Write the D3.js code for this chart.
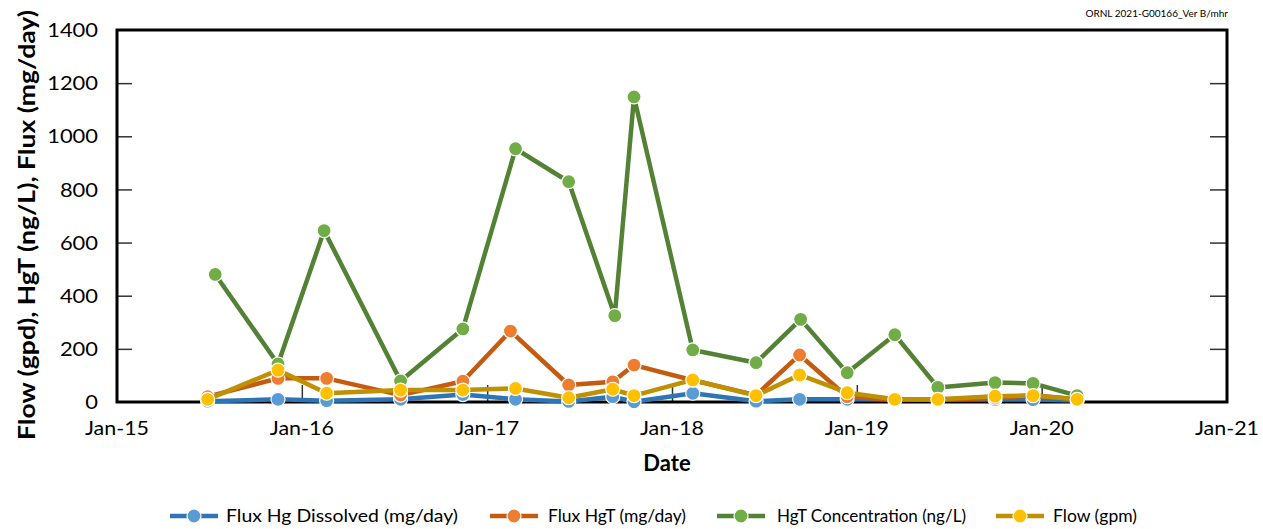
<!DOCTYPE html>
<html>
<head>
<meta charset="utf-8">
<script src="https://cdn.jsdelivr.net/npm/d3@7"></script>
<style>
  html, body { margin: 0; padding: 0; background: #fff; }
  svg { display: block; font-family: "Lato", "DejaVu Sans", sans-serif; }
</style>
</head>
<body>
<svg id="chart" width="1263" height="529"></svg>
<script>
// Sampling dates for dissolved flux and flow
const sampleDates = [
  "2015-06-29", "2015-11-15", "2016-02-19", "2016-07-14", "2016-11-14", "2017-02-26",
  "2017-06-11", "2017-09-06", "2017-10-18", "2018-02-11", "2018-06-16", "2018-09-10",
  "2018-12-13", "2019-03-17", "2019-06-10", "2019-10-01", "2019-12-15", "2020-03-11"
];
// Sampling dates for total-Hg flux
const fluxHgTDates = [
  "2015-06-29", "2015-11-15", "2016-02-19", "2016-07-14", "2016-11-14", "2017-02-16",
  "2017-06-11", "2017-09-06", "2017-10-18", "2018-02-11", "2018-06-16", "2018-09-10",
  "2018-12-13", "2019-03-17", "2019-06-10", "2019-10-01", "2019-12-15", "2020-03-11"
];
// Sampling dates for HgT concentration
const hgtDates = [
  "2015-07-14", "2015-11-15", "2016-02-14", "2016-07-14", "2016-11-14", "2017-02-26",
  "2017-06-11", "2017-09-10", "2017-10-18", "2018-02-11", "2018-06-16", "2018-09-12",
  "2018-12-13", "2019-03-17", "2019-06-10", "2019-10-01", "2019-12-15", "2020-03-11"
];

const fluxHgDissolved = [3, 10, 5, 10, 28, 10, 2, 20, 1, 33, 3, 10, 10, 9, 9, 9, 9, 6];
const fluxHgT        = [20, 89, 89, 26, 78, 267, 64, 76, 139, 82, 26, 177, 20, 8, 8, 15, 25, 10];
const hgtConc        = [480, 143, 645, 79, 275, 953, 829, 325, 1148, 196, 148, 311, 110, 253, 55, 73, 70, 24];
const flowGpm        = [10, 120, 33, 45, 45, 51, 16, 48, 24, 83, 24, 102, 35, 10, 10, 22, 24, 10];

const yTicks = [0, 200, 400, 600, 800, 1000, 1200, 1400];
const xDomain = ["2015-01-01", "2021-01-01"];

const seriesNames = ["Flux Hg Dissolved (mg/day)", "Flux HgT (mg/day)", "HgT Concentration (ng/L)", "Flow (gpm)"];
const lineColors   = ["#2E75B6", "#C55A11", "#548235", "#BF9000"];
const markerColors = ["#5B9BD5", "#ED7D31", "#70AD47", "#FFC000"];

const parse = d3.utcParse("%Y-%m-%d");
const series = [
  { name: seriesNames[0], dates: sampleDates, values: fluxHgDissolved },
  { name: seriesNames[1], dates: fluxHgTDates, values: fluxHgT },
  { name: seriesNames[2], dates: hgtDates, values: hgtConc },
  { name: seriesNames[3], dates: sampleDates, values: flowGpm }
].map((s, i) => ({
  ...s,
  line: lineColors[i],
  marker: markerColors[i],
  points: s.values.map((v, j) => ({ date: parse(s.dates[j]), value: v }))
}));

const svg = d3.select("#chart");
const plot = { left: 117, right: 1227, top: 30, bottom: 402 };

const x = d3.scaleUtc().domain(xDomain.map(parse)).range([plot.left, plot.right]);
const y = d3.scaleLinear().domain([0, 1400]).range([plot.bottom, plot.top]);

// Y axis: inward ticks on both sides
const yAxisL = svg.append("g").attr("transform", `translate(${plot.left},0)`)
  .call(d3.axisRight(y).tickValues(yTicks).tickSize(15).tickFormat(""));
const yAxisR = svg.append("g").attr("transform", `translate(${plot.right},0)`)
  .call(d3.axisLeft(y).tickValues(yTicks).tickSize(17).tickFormat(""));
[yAxisL, yAxisR].forEach(g => {
  g.select(".domain").remove();
  g.selectAll(".tick line").attr("stroke", "#333").attr("stroke-width", 1.5);
  g.selectAll(".tick").filter(d => d === 0 || d === 1400).remove();
});

// Y tick labels (wide geometric figures)
svg.append("g").selectAll("text").data(yTicks).join("text")
  .attr("x", 98).attr("y", d => y(d)).attr("dy", "0.36em")
  .attr("text-anchor", "end").attr("font-size", 20).attr("fill", "#000")
  .attr("textLength", d => String(d).length * 12.7).attr("lengthAdjust", "spacingAndGlyphs")
  .text(d => d);

// X axis: inward ticks
const xTickVals = x.ticks(d3.utcYear.every(1));
const xAxis = svg.append("g").attr("transform", `translate(0,${plot.bottom})`)
  .call(d3.axisTop(x).tickValues(xTickVals).tickSize(17).tickFormat(""));
xAxis.select(".domain").remove();
xAxis.selectAll(".tick line").attr("stroke", "#333").attr("stroke-width", 1.5);
xAxis.selectAll(".tick").filter((d, i) => i === 0 || i === xTickVals.length - 1).remove();

svg.append("g").selectAll("text").data(xTickVals).join("text")
  .attr("x", d => x(d)).attr("y", 435)
  .attr("text-anchor", "middle").attr("font-size", 19).attr("fill", "#000")
  .attr("textLength", 64).attr("lengthAdjust", "spacingAndGlyphs")
  .text(d3.utcFormat("Jan-%y"));

// Plot frame
svg.append("rect")
  .attr("x", plot.left).attr("y", plot.top)
  .attr("width", plot.right - plot.left).attr("height", plot.bottom - plot.top)
  .attr("fill", "none").attr("stroke", "#000").attr("stroke-width", 3);

// Series lines and markers
const line = d3.line().x(d => x(d.date)).y(d => y(d.value));
series.forEach(s => {
  const g = svg.append("g");
  g.append("path").datum(s.points)
    .attr("d", line).attr("fill", "none")
    .attr("stroke", s.line).attr("stroke-width", 4.5).attr("stroke-linejoin", "round");
  g.selectAll("circle").data(s.points).join("circle")
    .attr("cx", d => x(d.date)).attr("cy", d => y(d.value)).attr("r", 7)
    .attr("fill", s.marker).attr("stroke", "#fff").attr("stroke-width", 1.2);
});

// Axis titles
svg.append("text")
  .attr("transform", "translate(35,225) rotate(-90)")
  .attr("text-anchor", "middle").attr("font-size", 23).attr("font-weight", "bold")
  .attr("textLength", 430).attr("lengthAdjust", "spacingAndGlyphs")
  .text("Flow (gpd), HgT (ng/L), Flux (mg/day)");

svg.append("text")
  .attr("x", 667).attr("y", 471).attr("text-anchor", "middle")
  .attr("font-size", 22).attr("font-weight", "bold")
  .text("Date");

// Document label
svg.append("text")
  .attr("x", 1228).attr("y", 17).attr("text-anchor", "end")
  .attr("font-size", 10).attr("fill", "#000")
  .text("ORNL 2021-G00166_Ver B/mhr");

// Legend
const legendItems = [
  { x0: 170, tx: 226, tw: 232 },
  { x0: 490, tx: 548, tw: 138 },
  { x0: 717, tx: 777, tw: 189 },
  { x0: 996, tx: 1053, tw: 84 }
];
const legend = svg.append("g");
series.forEach((s, i) => {
  const it = legendItems[i];
  const g = legend.append("g");
  g.append("line").attr("x1", it.x0).attr("x2", it.x0 + 48)
    .attr("y1", 516).attr("y2", 516)
    .attr("stroke", s.line).attr("stroke-width", 4.5);
  g.append("circle").attr("cx", it.x0 + 24).attr("cy", 516).attr("r", 7)
    .attr("fill", s.marker).attr("stroke", "#fff").attr("stroke-width", 1.2);
  g.append("text").attr("x", it.tx).attr("y", 516).attr("dy", "0.36em")
    .attr("font-size", 18).attr("fill", "#000")
    .attr("textLength", it.tw).attr("lengthAdjust", "spacingAndGlyphs")
    .text(s.name);
});
</script>
</body>
</html>
